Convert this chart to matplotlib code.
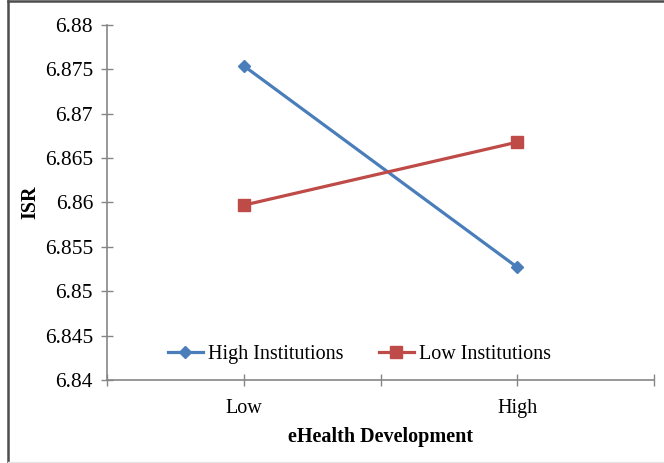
import matplotlib
matplotlib.use('Agg')
import matplotlib.pyplot as plt
from matplotlib.lines import Line2D

plt.rcParams['font.family'] = ['Liberation Serif', 'DejaVu Serif']

# Interaction des deux niveaux d'institutions
niveaux = ['Low', 'High']
high_inst = [6.8754, 6.8527]
low_inst = [6.8597, 6.8668]
yticks = [6.84, 6.845, 6.85, 6.855, 6.86, 6.865, 6.87, 6.875, 6.88]

fig = plt.figure(figsize=(6.64, 4.63), dpi=100)
ax = fig.add_axes([0.1611, 0.1793, 0.8239, 0.7667])

x = [0.5, 1.5]
ax.plot(x, high_inst, color='#4A7EBB', lw=2.3, marker='D', ms=6.5,
        label='High Institutions')
ax.plot(x, low_inst, color='#BE4B48', lw=2.3, marker='s', ms=8,
        label='Low Institutions')

ax.set_xlim(0, 2)
ax.set_ylim(6.84, 6.88)
ax.set_yticks(yticks)
ax.set_yticklabels([('%g' % v) for v in yticks])
ax.set_xticks([0, 1, 2])
ax.set_xticks(x, minor=True)
ax.set_xticklabels(['', '', ''])
ax.set_xticklabels(niveaux, minor=True)

for s in ['top', 'right']:
    ax.spines[s].set_visible(False)
for s in ['left', 'bottom']:
    ax.spines[s].set_color('#868686')
    ax.spines[s].set_linewidth(1.2)

ax.tick_params(axis='y', which='major', direction='inout', length=8, width=1,
               color='#868686', labelsize=15.5, pad=6)
ax.tick_params(axis='x', which='major', direction='inout', length=8, width=1,
               color='#868686')
ax.tick_params(axis='x', which='minor', direction='inout', length=8, width=1,
               color='#868686', labelsize=14.5, pad=10)

ax.set_xlabel('eHealth Development', fontsize=14.5, fontweight='bold', labelpad=6)
ax.set_ylabel('ISR', fontsize=14.5, fontweight='bold', labelpad=3)

ax.legend(loc='lower center', bbox_to_anchor=(0.461, 0.0), ncol=2, frameon=False,
          fontsize=14.5, handlelength=1.75, handletextpad=0.25, columnspacing=1.75,
          borderaxespad=0.4)

# cadre autour de la figure
fig.add_artist(Line2D([8 / 664, 8 / 664], [0.003, 0.997], color='#4d4d4d', lw=1.8,
                      transform=fig.transFigure))
fig.add_artist(Line2D([8 / 664, 1.0], [0.997, 0.997], color='#4d4d4d', lw=1.8,
                      transform=fig.transFigure))
fig.add_artist(Line2D([8 / 664, 1.0], [0.003, 0.003], color='#e6e6e6', lw=1.0,
                      transform=fig.transFigure))

fig.savefig('out.png', dpi=100)
